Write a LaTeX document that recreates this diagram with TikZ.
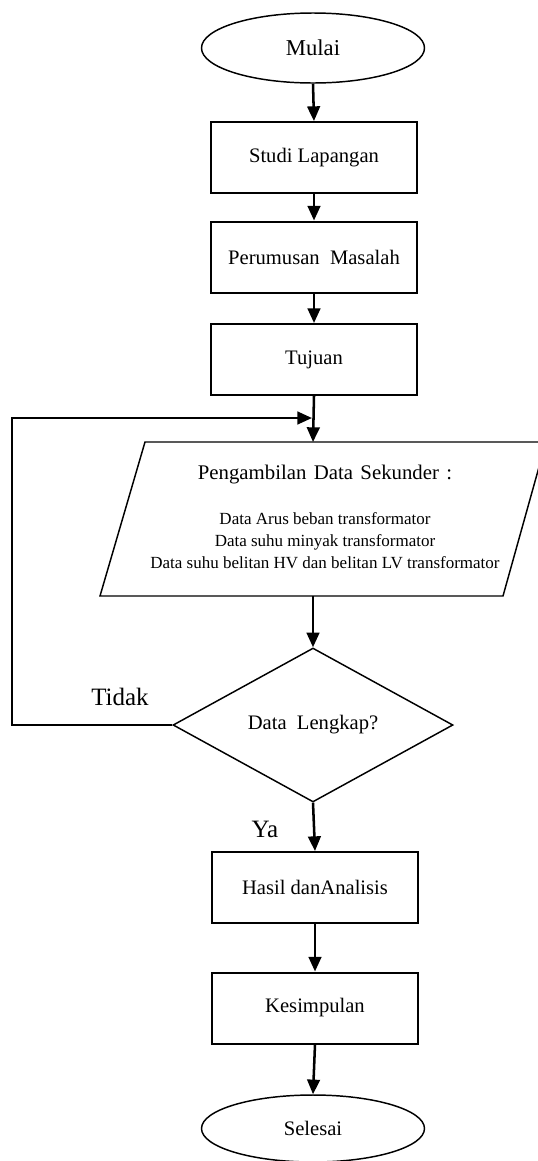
\documentclass[tikz,border=0pt]{standalone}
\usepackage{fontspec}
\setmainfont{Liberation Serif}
\usetikzlibrary{shapes.geometric,arrows.meta}

\tikzset{
  base/.style={font=\fontsize{15.45pt}{18pt}\selectfont, inner sep=0pt, align=center},
  terminal/.style={base, ellipse, draw, line width=1.1pt, minimum width=167.25pt},
  process/.style={base, rectangle, draw, line width=1.5pt, minimum width=154.5pt, minimum height=53.25pt},
  decision/.style={base, diamond, draw, line width=1.1pt, aspect=1.82, minimum width=210pt, minimum height=115.5pt},
  iobox/.style={line width=1.1pt},
  flow/.style={line width=1.9pt, -{Triangle[length=11pt,width=9.5pt]}},
  answer/.style={font=\fontsize{18.75pt}{22pt}\selectfont, inner sep=0pt}
}

\begin{document}
\begin{tikzpicture}[x=0.75pt, y=-0.75pt]
  \useasboundingbox (0,0) rectangle (537,1161);

  % start
  \node[terminal, minimum height=52.5pt, font=\fontsize{17pt}{20pt}\selectfont] (mulai) at (313,48) {Mulai};

  % preparation steps
  \node[process] (studi) at (314,157.5) {Studi Lapangan};
  \node[process] (rumusan) at (314,257) {Perumusan\ \ Masalah};
  \node[process] (tujuan) at (314,359.5) {Tujuan};

  % secondary data input (parallelogram)
  \draw[iobox] (145,442) -- (546,442) -- (503,596) -- (100,596) -- cycle;
  \coordinate (ptop) at (313,442);
  \coordinate (pbot) at (313,596);
  \node[base, font=\fontsize{15.6pt}{18pt}\selectfont] (judul) at (325,475)
    {Pengambilan\hspace{5.5pt}Data\hspace{5.5pt}Sekunder\hspace{5.5pt}:};
  \node[base, font=\fontsize{12.75pt}{16.5pt}\selectfont] (isi) at (325,541)
    {Data Arus beban transformator\\
     Data suhu minyak transformator\\
     Data suhu belitan HV dan belitan LV transformator};

  % completeness check
  \node[decision] (cek) at (313,725) {Data\ \ Lengkap?};

  % results
  \node[process] (hasil) at (315,887.5) {Hasil danAnalisis};
  \node[process] (simpul) at (315,1008) {Kesimpulan};

  % end
  \node[terminal, minimum height=50.25pt] (selesai) at (313,1128.5) {Selesai};

  % loop-back route
  \coordinate (loopleft) at (12,418);
  \coordinate (join) at (312,418);

  % connectors
  \draw[flow] (mulai.south) -- (studi.north);
  \draw[flow] (studi.south) -- (rumusan.north);
  \draw[flow] (rumusan.south) -- (tujuan.north);
  \draw[flow] (tujuan.south) -- (ptop);
  \draw[flow] (cek.west) -| (loopleft) -- (join);
  \draw[flow] (pbot) -- (cek.north);
  \draw[flow] (cek.south) -- (hasil.north);
  \draw[flow] (hasil.south) -- (simpul.north);
  \draw[flow] (simpul.south) -- (selesai.north);

  % branch labels
  \node[answer] (tidak) at (120,697) {Tidak};
  \node[answer] (ya) at (265,829) {Ya};
\end{tikzpicture}
\end{document}
